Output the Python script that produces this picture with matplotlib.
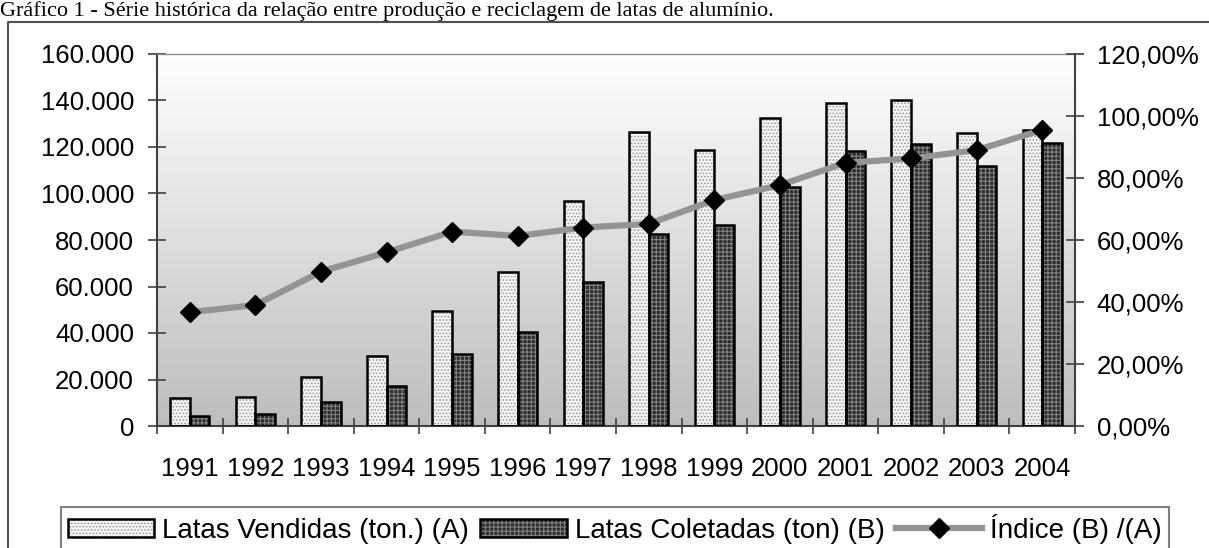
import matplotlib.pyplot as plt
import numpy as np
from matplotlib.patches import Patch
from matplotlib.lines import Line2D
from matplotlib.colors import LinearSegmentedColormap
from matplotlib.ticker import FuncFormatter

plt.rcParams['font.family'] = ['Liberation Sans', 'DejaVu Sans']
plt.rcParams['hatch.linewidth'] = 0.8

# dados
anos = ['1991', '1992', '1993', '1994', '1995', '1996', '1997',
        '1998', '1999', '2000', '2001', '2002', '2003', '2004']
vendidas = [12000, 12600, 21200, 30100, 49500, 66400, 96800,
            126600, 118700, 132300, 139100, 140200, 125900, 127300]
coletadas = [4400, 5000, 10500, 17000, 31000, 40600, 61900,
             82400, 86500, 102900, 118300, 121100, 111800, 121600]
indice = [36.7, 39.0, 49.8, 56.0, 62.7, 61.3, 64.0,
          65.2, 72.9, 77.7, 84.9, 86.3, 89.0, 95.5]
rotulos = ['Latas Vendidas (ton.) (A)', 'Latas Coletadas (ton) (B)', 'Índice (B) /(A)']

W, H = 1209, 548
fig = plt.figure(figsize=(W / 100, H / 100), dpi=100)
ax = fig.add_axes([157 / W, 1 - 426 / H, (1075 - 157) / W, (426 - 54) / H])

x = np.arange(len(anos))
w = 0.3

# fundo em degrade (branco em cima, cinza embaixo)
fundo = LinearSegmentedColormap.from_list('fundo', ['#bdbdbd', '#ffffff'])
ax.imshow(np.linspace(1, 0, 256).reshape(-1, 1), cmap=fundo, vmin=0, vmax=1,
          extent=(-0.5, len(anos) - 0.5, 0, 160000), aspect='auto', zorder=0)

claro = dict(facecolor='#f4f4f4', edgecolor='#9c9c9c', hatch='.....', linewidth=0)
escuro = dict(facecolor='#2c2c2c', edgecolor='#808080', hatch='++++', linewidth=0)
borda = dict(fill=False, edgecolor='black', linewidth=1.8)

ax.bar(x - w / 2, vendidas, w, zorder=2, **claro)
ax.bar(x - w / 2, vendidas, w, zorder=3, **borda)
ax.bar(x + w / 2, coletadas, w, zorder=2, **escuro)
ax.bar(x + w / 2, coletadas, w, zorder=3, **borda)

ax.set_xlim(-0.5, len(anos) - 0.5)
ax.set_ylim(0, 160000)
ax.set_yticks(range(0, 160001, 20000))
ax.yaxis.set_major_formatter(FuncFormatter(lambda v, p: f'{int(v):,}'.replace(',', '.')))
ax.tick_params(axis='y', direction='inout', length=13, width=1.2, color='#404040',
               pad=10, labelsize=18.5)
ax.set_xticks(x)
ax.set_xticklabels(anos)
ax.tick_params(axis='x', length=0, pad=22, labelsize=18.5)
ax.set_xticks(np.arange(-0.5, len(anos)), minor=True)
ax.tick_params(axis='x', which='minor', direction='inout', length=12, width=1.2,
               color='#404040')

for s in ['left', 'bottom']:
    ax.spines[s].set_color('#404040')
    ax.spines[s].set_linewidth(1.5)
ax.spines['right'].set_visible(False)
ax.spines['top'].set_color('#8a8a8a')
ax.spines['top'].set_linewidth(1.0)

# eixo secundario com o indice
ax2 = ax.twinx()
ax2.plot(x, indice, color='#949494', lw=4.5, marker='D', ms=10,
         mfc='black', mec='black', zorder=3)
ax2.set_ylim(0, 120)
ax2.set_yticks(range(0, 121, 20))
ax2.yaxis.set_major_formatter(FuncFormatter(lambda v, p: f'{v:.2f}'.replace('.', ',') + '%'))
ax2.tick_params(axis='y', direction='inout', length=13, width=1.2, color='#404040',
                pad=9, labelsize=18.5)
for s in ['left', 'bottom', 'top']:
    ax2.spines[s].set_visible(False)
ax2.spines['right'].set_color('#404040')
ax2.spines['right'].set_linewidth(1.5)

# legenda
h1 = (Patch(**claro), Patch(**borda))
h2 = (Patch(**escuro), Patch(**borda))
h3 = Line2D([], [], color='#949494', lw=4.5, marker='D', ms=10, mfc='black', mec='black')
leg = fig.legend([h1, h2, h3], rotulos, ncol=3, loc='upper center',
                 bbox_to_anchor=(615 / W, 1 - 507 / H), fontsize=20,
                 frameon=True, fancybox=False, edgecolor='#808080', framealpha=1,
                 handlelength=3.1, handleheight=0.65, handletextpad=0.3,
                 columnspacing=0.4, borderpad=0.25, borderaxespad=0)
leg.get_frame().set_linewidth(1.5)

# moldura externa e titulo
fig.add_artist(Line2D([8 / W, 8 / W, 1.0], [0, 1 - 22 / H, 1 - 22 / H],
                      transform=fig.transFigure, color='#505050', lw=1.5))
fig.text(0.0, 1 - 16 / H,
         'Gráfico 1 - Série histórica da relação entre produção e reciclagem de latas de alumínio.',
         family='Liberation Serif', fontsize=16, va='baseline', ha='left')

fig.savefig('out.png', dpi=100)
